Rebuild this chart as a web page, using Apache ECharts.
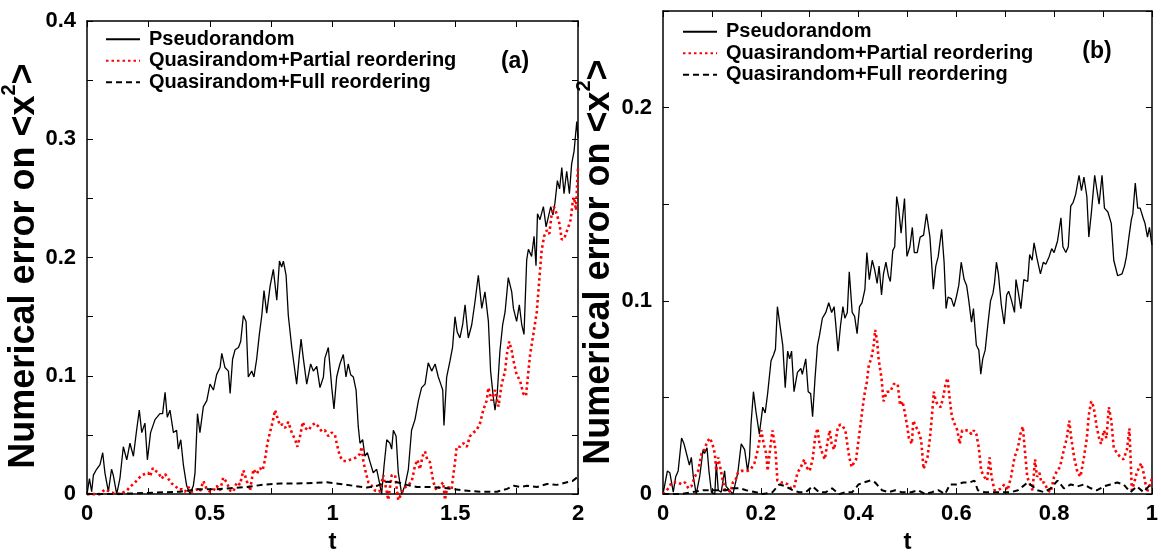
<!DOCTYPE html>
<html>
<head>
<meta charset="utf-8">
<script src="https://cdn.jsdelivr.net/npm/echarts@6/dist/echarts.min.js"></script>
<style>
  html, body { margin: 0; padding: 0; background: #fff; }
  #main { width: 1161px; height: 559px; }
</style>
</head>
<body>
<div id="main"></div>
<script>
// series names
const seriesNames = ['Pseudorandom', 'Quasirandom+Partial reordering', 'Quasirandom+Full reordering']

// tick labels
const xLabelsA = [0, 0.5, 1, 1.5, 2]
const yLabelsA = [0, 0.1, 0.2, 0.3, 0.4]
const xLabelsB = [0, 0.2, 0.4, 0.6, 0.8, 1]
const yLabelsB = [0, 0.1, 0.2]

// panel (a): [t, error]
const pseudoA = [[0,0],[0.01,0.013],[0.019,0.002],[0.026,0.016],[0.039,0.021],[0.053,0.025],[0.064,0.035],[0.073,0.018],[0.087,0.002],[0.1,0.021],[0.107,0.016],[0.121,0],[0.134,0.013],[0.148,0.04],[0.162,0.029],[0.175,0.043],[0.189,0.032],[0.202,0.054],[0.213,0.071],[0.223,0.052],[0.236,0.06],[0.246,0.029],[0.259,0.052],[0.277,0.063],[0.297,0.068],[0.308,0.068],[0.318,0.086],[0.327,0.065],[0.338,0.071],[0.352,0.052],[0.365,0.054],[0.372,0.038],[0.382,0.046],[0.393,0.024],[0.406,0.007],[0.42,0],[0.433,0.007],[0.44,0.018],[0.45,0.068],[0.46,0.052],[0.474,0.074],[0.488,0.079],[0.501,0.093],[0.515,0.088],[0.528,0.101],[0.542,0.107],[0.549,0.119],[0.562,0.107],[0.576,0.104],[0.583,0.085],[0.593,0.114],[0.603,0.122],[0.617,0.124],[0.626,0.129],[0.637,0.151],[0.648,0.146],[0.657,0.099],[0.671,0.104],[0.68,0.099],[0.691,0.114],[0.702,0.135],[0.712,0.151],[0.721,0.172],[0.732,0.153],[0.746,0.176],[0.759,0.19],[0.773,0.164],[0.784,0.197],[0.793,0.192],[0.8,0.197],[0.811,0.185],[0.82,0.151],[0.834,0.124],[0.843,0.11],[0.854,0.093],[0.864,0.115],[0.872,0.131],[0.881,0.115],[0.895,0.093],[0.911,0.11],[0.922,0.104],[0.936,0.108],[0.949,0.09],[0.963,0.099],[0.969,0.115],[0.983,0.124],[0.997,0.09],[1.006,0.072],[1.017,0.099],[1.03,0.11],[1.044,0.118],[1.055,0.099],[1.064,0.11],[1.074,0.101],[1.085,0.099],[1.096,0.088],[1.105,0.057],[1.112,0.043],[1.123,0.046],[1.132,0.032],[1.142,0.035],[1.153,0.027],[1.166,0.018],[1.18,0.021],[1.191,0.01],[1.2,0],[1.21,0.024],[1.221,0.046],[1.234,0.043],[1.241,0.038],[1.248,0.054],[1.259,0.049],[1.268,0.018],[1.282,0],[1.295,0.007],[1.309,0.021],[1.322,0.054],[1.336,0.063],[1.35,0.079],[1.363,0.09],[1.377,0.093],[1.39,0.111],[1.404,0.104],[1.418,0.11],[1.431,0.099],[1.441,0.093],[1.449,0.088],[1.454,0.058],[1.465,0.099],[1.479,0.113],[1.489,0.124],[1.499,0.15],[1.508,0.137],[1.519,0.132],[1.53,0.143],[1.54,0.16],[1.553,0.132],[1.567,0.143],[1.58,0.162],[1.594,0.185],[1.608,0.157],[1.621,0.171],[1.635,0.146],[1.644,0.104],[1.655,0.082],[1.662,0.071],[1.671,0.085],[1.682,0.121],[1.693,0.143],[1.703,0.154],[1.716,0.183],[1.73,0.171],[1.737,0.157],[1.75,0.146],[1.761,0.16],[1.771,0.143],[1.78,0.135],[1.791,0.198],[1.798,0.207],[1.811,0.201],[1.821,0.218],[1.829,0.193],[1.835,0.237],[1.845,0.232],[1.859,0.243],[1.87,0.226],[1.889,0.243],[1.898,0.236],[1.906,0.246],[1.916,0.265],[1.925,0.258],[1.934,0.276],[1.943,0.254],[1.954,0.273],[1.965,0.254],[1.974,0.279],[1.984,0.29],[1.995,0.315],[2,0.301]]
const partialA = [[0,0],[0.053,0],[0.073,0.004],[0.094,0.002],[0.107,0.001],[0.134,0],[0.162,0.003],[0.175,0.006],[0.196,0.01],[0.209,0.013],[0.223,0.016],[0.236,0.017],[0.25,0.018],[0.257,0.015],[0.268,0.022],[0.277,0.02],[0.291,0.018],[0.304,0.013],[0.318,0.017],[0.331,0.013],[0.345,0.009],[0.359,0.007],[0.372,0.004],[0.386,0.004],[0.399,0.002],[0.413,0.006],[0.426,0.002],[0.447,0.004],[0.46,0.002],[0.474,0.011],[0.488,0.004],[0.501,0.002],[0.515,0.003],[0.528,0.007],[0.542,0.003],[0.555,0.014],[0.569,0.01],[0.583,0.003],[0.596,0.002],[0.61,0.01],[0.623,0.008],[0.637,0.02],[0.651,0.011],[0.664,0.003],[0.678,0.021],[0.691,0.017],[0.705,0.022],[0.715,0.02],[0.725,0.029],[0.735,0.043],[0.745,0.052],[0.755,0.06],[0.766,0.071],[0.775,0.065],[0.786,0.058],[0.796,0.059],[0.807,0.056],[0.82,0.061],[0.834,0.052],[0.848,0.046],[0.857,0.04],[0.868,0.049],[0.879,0.061],[0.888,0.056],[0.902,0.054],[0.915,0.058],[0.929,0.06],[0.943,0.057],[0.956,0.053],[0.969,0.054],[0.983,0.049],[0.997,0.052],[1.01,0.05],[1.017,0.043],[1.03,0.032],[1.044,0.028],[1.058,0.028],[1.071,0.029],[1.085,0.03],[1.098,0.031],[1.112,0.034],[1.119,0.04],[1.126,0.027],[1.136,0.018],[1.146,0.01],[1.16,0.007],[1.173,0.003],[1.191,0.002],[1.207,0.016],[1.221,0.002],[1.227,-0.005],[1.241,0.016],[1.255,0.016],[1.262,0.004],[1.268,-0.005],[1.289,0.004],[1.302,0.007],[1.322,0.01],[1.336,0.024],[1.346,0.029],[1.356,0.021],[1.367,0.032],[1.377,0.036],[1.386,0.029],[1.397,0.027],[1.411,0.01],[1.424,0.003],[1.438,0.007],[1.451,0.01],[1.458,-0.005],[1.465,0.003],[1.472,0.006],[1.485,0.004],[1.492,0.016],[1.499,0.027],[1.506,0.04],[1.519,0.04],[1.533,0.043],[1.547,0.04],[1.56,0.049],[1.574,0.052],[1.587,0.054],[1.601,0.06],[1.614,0.071],[1.628,0.079],[1.635,0.09],[1.648,0.079],[1.662,0.088],[1.676,0.074],[1.689,0.093],[1.703,0.104],[1.71,0.118],[1.72,0.129],[1.73,0.121],[1.737,0.113],[1.75,0.101],[1.764,0.096],[1.777,0.085],[1.788,0.083],[1.798,0.104],[1.805,0.118],[1.818,0.135],[1.832,0.154],[1.843,0.183],[1.852,0.206],[1.862,0.218],[1.873,0.223],[1.883,0.22],[1.893,0.237],[1.902,0.243],[1.913,0.237],[1.924,0.229],[1.934,0.215],[1.947,0.218],[1.961,0.226],[1.97,0.232],[1.978,0.246],[1.984,0.251],[1.992,0.24],[1.997,0.265],[2,0.276]]
const fullA = [[0,0],[0.107,0],[0.243,0.001],[0.379,0.002],[0.447,0.004],[0.515,0.004],[0.583,0.005],[0.651,0.006],[0.719,0.008],[0.787,0.009],[0.855,0.009],[0.923,0.0094],[0.977,0.01],[1.031,0.0086],[1.086,0.007],[1.14,0.0055],[1.181,0.007],[1.222,0.0105],[1.263,0.01],[1.303,0.0078],[1.344,0.006],[1.398,0.006],[1.466,0.005],[1.534,0.003],[1.602,0.002],[1.67,0.002],[1.711,0.0044],[1.738,0.007],[1.765,0.006],[1.792,0.007],[1.833,0.006],[1.874,0.0086],[1.914,0.0078],[1.955,0.01],[1.977,0.011],[1.996,0.014],[2,0.016]]

// panel (b): [t, error]
const pseudoB = [[0,0],[0.002,0],[0.009,0.012],[0.014,0.011],[0.021,0.001],[0.026,0.009],[0.031,0.012],[0.038,0.029],[0.043,0.026],[0.048,0.021],[0.054,0.015],[0.058,0.019],[0.062,0.009],[0.068,0],[0.075,0.009],[0.082,0.023],[0.085,0.021],[0.09,0.024],[0.094,0.012],[0.099,0.001],[0.106,0],[0.109,0.016],[0.113,0.002],[0.119,0.001],[0.126,0.012],[0.129,0.004],[0.136,0.002],[0.143,0],[0.153,0.011],[0.16,0.026],[0.167,0.023],[0.173,0.012],[0.177,0.019],[0.18,0.036],[0.185,0.053],[0.19,0.043],[0.197,0.031],[0.204,0.045],[0.209,0.042],[0.214,0.052],[0.221,0.069],[0.226,0.072],[0.23,0.075],[0.234,0.097],[0.238,0.097],[0.245,0.077],[0.25,0.055],[0.255,0.074],[0.259,0.07],[0.263,0.074],[0.268,0.053],[0.275,0.063],[0.282,0.065],[0.285,0.062],[0.292,0.07],[0.297,0.053],[0.302,0.052],[0.306,0.04],[0.311,0.06],[0.316,0.077],[0.32,0.082],[0.326,0.091],[0.333,0.094],[0.339,0.099],[0.345,0.094],[0.35,0.097],[0.353,0.089],[0.358,0.074],[0.363,0.087],[0.368,0.097],[0.372,0.091],[0.377,0.094],[0.381,0.115],[0.387,0.094],[0.392,0.092],[0.397,0.083],[0.402,0.097],[0.407,0.099],[0.413,0.106],[0.417,0.125],[0.422,0.111],[0.428,0.121],[0.433,0.116],[0.438,0.109],[0.442,0.118],[0.447,0.103],[0.451,0.114],[0.456,0.12],[0.461,0.113],[0.465,0.11],[0.47,0.126],[0.474,0.128],[0.478,0.154],[0.482,0.148],[0.487,0.135],[0.494,0.153],[0.499,0.123],[0.505,0.128],[0.51,0.138],[0.514,0.125],[0.52,0.125],[0.526,0.133],[0.533,0.134],[0.539,0.145],[0.546,0.133],[0.553,0.106],[0.558,0.118],[0.563,0.123],[0.57,0.137],[0.575,0.12],[0.579,0.096],[0.583,0.102],[0.59,0.101],[0.595,0.097],[0.6,0.102],[0.605,0.108],[0.61,0.12],[0.616,0.111],[0.621,0.108],[0.625,0.101],[0.631,0.089],[0.635,0.096],[0.641,0.077],[0.646,0.0745],[0.65,0.062],[0.654,0.07],[0.659,0.0745],[0.665,0.089],[0.67,0.1],[0.675,0.104],[0.678,0.109],[0.682,0.12],[0.686,0.114],[0.692,0.098],[0.695,0.097],[0.698,0.088],[0.703,0.103],[0.707,0.105],[0.712,0.101],[0.716,0.102],[0.719,0.094],[0.722,0.111],[0.727,0.104],[0.732,0.096],[0.738,0.111],[0.742,0.111],[0.746,0.11],[0.75,0.124],[0.755,0.121],[0.759,0.13],[0.765,0.122],[0.772,0.114],[0.778,0.12],[0.783,0.119],[0.79,0.123],[0.795,0.127],[0.8,0.125],[0.807,0.131],[0.814,0.143],[0.818,0.128],[0.824,0.125],[0.829,0.128],[0.834,0.149],[0.839,0.151],[0.844,0.155],[0.851,0.165],[0.856,0.157],[0.861,0.164],[0.867,0.154],[0.871,0.133],[0.876,0.145],[0.883,0.165],[0.887,0.165],[0.892,0.15],[0.898,0.165],[0.903,0.148],[0.91,0.146],[0.917,0.14],[0.922,0.121],[0.926,0.12],[0.93,0.113],[0.934,0.113],[0.939,0.114],[0.944,0.118],[0.948,0.123],[0.953,0.133],[0.958,0.142],[0.961,0.145],[0.966,0.161],[0.971,0.148],[0.976,0.148],[0.982,0.143],[0.986,0.14],[0.991,0.133],[0.995,0.138],[1,0.129]]
const partialB = [[0,0],[0.002,0],[0.011,0.003],[0.018,0.006],[0.024,0.006],[0.031,0.006],[0.038,0.005],[0.045,0.006],[0.052,0.003],[0.058,0.004],[0.065,0.009],[0.072,0.012],[0.079,0.021],[0.085,0.023],[0.09,0.027],[0.096,0.029],[0.101,0.026],[0.106,0.021],[0.109,0.012],[0.113,0.019],[0.117,0.014],[0.123,0.006],[0.127,0.002],[0.133,0.002],[0.138,0.001],[0.143,0.006],[0.148,0.007],[0.153,0.011],[0.16,0.012],[0.167,0.012],[0.173,0.012],[0.18,0.013],[0.187,0.016],[0.194,0.023],[0.201,0.033],[0.206,0.026],[0.211,0.021],[0.214,0.012],[0.219,0.023],[0.224,0.033],[0.23,0.023],[0.234,0.007],[0.241,0.006],[0.248,0.006],[0.255,0.005],[0.262,0.003],[0.268,0.003],[0.275,0.011],[0.282,0.014],[0.289,0.018],[0.293,0.014],[0.3,0.012],[0.306,0.018],[0.311,0.029],[0.316,0.034],[0.32,0.026],[0.326,0.021],[0.331,0.018],[0.336,0.026],[0.341,0.033],[0.345,0.026],[0.35,0.023],[0.354,0.029],[0.358,0.035],[0.363,0.036],[0.368,0.035],[0.373,0.033],[0.377,0.026],[0.381,0.019],[0.386,0.014],[0.39,0.016],[0.395,0.018],[0.399,0.026],[0.404,0.036],[0.409,0.046],[0.413,0.053],[0.417,0.058],[0.421,0.067],[0.426,0.07],[0.431,0.077],[0.434,0.085],[0.438,0.079],[0.441,0.07],[0.447,0.06],[0.451,0.048],[0.458,0.053],[0.465,0.053],[0.472,0.057],[0.48,0.057],[0.485,0.046],[0.49,0.048],[0.494,0.043],[0.499,0.036],[0.503,0.029],[0.509,0.026],[0.512,0.038],[0.517,0.035],[0.522,0.033],[0.528,0.028],[0.533,0.013],[0.537,0.012],[0.541,0.019],[0.546,0.029],[0.55,0.04],[0.554,0.053],[0.558,0.048],[0.563,0.046],[0.568,0.045],[0.573,0.05],[0.578,0.057],[0.582,0.06],[0.587,0.048],[0.591,0.04],[0.597,0.036],[0.602,0.033],[0.607,0.026],[0.612,0.033],[0.617,0.033],[0.624,0.033],[0.631,0.031],[0.636,0.033],[0.641,0.031],[0.646,0.024],[0.651,0.012],[0.657,0.009],[0.663,0.007],[0.668,0.019],[0.672,0.009],[0.678,0.002],[0.685,0.002],[0.692,0.003],[0.698,0.005],[0.705,0.002],[0.712,0.009],[0.719,0.019],[0.726,0.024],[0.731,0.031],[0.736,0.035],[0.739,0.026],[0.745,0.009],[0.749,0.006],[0.756,0.002],[0.761,0.018],[0.765,0.009],[0.77,0.011],[0.774,0.006],[0.78,0.006],[0.787,0.002],[0.793,0.001],[0.8,0.009],[0.806,0.012],[0.812,0.014],[0.82,0.023],[0.826,0.029],[0.831,0.038],[0.835,0.029],[0.841,0.019],[0.848,0.011],[0.854,0.009],[0.861,0.019],[0.867,0.029],[0.871,0.041],[0.876,0.048],[0.881,0.045],[0.887,0.035],[0.892,0.029],[0.896,0.026],[0.902,0.033],[0.907,0.029],[0.912,0.045],[0.917,0.038],[0.922,0.024],[0.929,0.021],[0.936,0.019],[0.942,0.018],[0.949,0.023],[0.954,0.034],[0.959,0.002],[0.964,0.006],[0.969,0.011],[0.978,0.016],[0.983,0.011],[0.99,0.001],[0.995,0.004],[1,0.008]]
const fullB = [[0,0],[0.035,0],[0.06,0.001],[0.082,0.002],[0.096,0.002],[0.109,0.002],[0.129,0.002],[0.143,0.003],[0.157,0.003],[0.17,0.002],[0.19,0.001],[0.204,0],[0.224,0.001],[0.238,0.005],[0.251,0.004],[0.265,0.002],[0.278,0.001],[0.292,0.001],[0.306,0.004],[0.319,0.001],[0.333,0.001],[0.346,0.003],[0.36,0],[0.373,0.001],[0.387,0.001],[0.4,0.005],[0.411,0.006],[0.424,0.007],[0.434,0.006],[0.448,0.002],[0.461,0.001],[0.475,0.002],[0.488,0.001],[0.495,0.001],[0.508,0.001],[0.522,0.002],[0.536,0],[0.55,0.001],[0.563,0.002],[0.577,0],[0.587,0.005],[0.6,0.005],[0.614,0.006],[0.627,0.006],[0.637,0.007],[0.644,0.002],[0.658,0.001],[0.671,0.001],[0.685,0.001],[0.698,0.001],[0.712,0.001],[0.726,0.002],[0.736,0.004],[0.746,0.006],[0.756,0.004],[0.766,0.002],[0.78,0.001],[0.793,0.003],[0.807,0.007],[0.82,0.003],[0.834,0.005],[0.848,0.004],[0.861,0.005],[0.875,0.003],[0.888,0.002],[0.902,0.004],[0.915,0.005],[0.929,0.006],[0.942,0.005],[0.956,0.001],[0.969,0.004],[0.983,0.001],[0.997,0.005],[1,0.006]]

const FONT = '"Liberation Sans", Arial, Helvetica, sans-serif'

const chart = echarts.init(document.getElementById('main'))

// only write a label where the tick is one of the listed values
function labelOn (list) {
  return function (v) {
    return list.some(l => Math.abs(l - v) < 1e-9) ? String(+v.toFixed(2)) : ''
  }
}

function xAxis (grid, max, step, labels, top) {
  return {
    type: 'value', gridIndex: grid, min: 0, max: max, interval: step,
    position: top ? 'top' : 'bottom',
    name: top ? '' : 't', nameLocation: 'middle', nameGap: 32,
    nameTextStyle: { fontFamily: FONT, fontWeight: 'bold', fontSize: 24, color: '#000' },
    axisLine: { show: true, onZero: false, lineStyle: { color: '#000', width: 1.5 } },
    axisTick: { show: true, inside: true, length: 6, lineStyle: { color: '#000', width: 1 } },
    axisLabel: top ? { show: false } : {
      show: true, margin: 9, color: '#000', fontFamily: FONT, fontWeight: 'bold', fontSize: 22,
      formatter: labelOn(labels)
    },
    splitLine: { show: false }
  }
}

function yAxis (grid, max, step, labels, right) {
  return {
    type: 'value', gridIndex: grid, min: 0, max: max, interval: step,
    position: right ? 'right' : 'left',
    axisLine: { show: true, onZero: false, lineStyle: { color: '#000', width: 1.5 } },
    axisTick: { show: true, inside: true, length: 6, lineStyle: { color: '#000', width: 1 } },
    axisLabel: right ? { show: false } : {
      show: true, margin: 11, color: '#000', fontFamily: FONT, fontWeight: 'bold', fontSize: 22,
      formatter: labelOn(labels)
    },
    splitLine: { show: false }
  }
}

function lines (axis, data) {
  const styles = [
    { color: '#000', width: 1.3, type: 'solid' },
    { color: '#ff0000', width: 2.6, type: [2.5, 3], cap: 'butt' },
    { color: '#000', width: 2, type: [6, 4], cap: 'butt' }
  ]
  return data.map((d, i) => ({
    name: seriesNames[i],
    type: 'line',
    xAxisIndex: axis, yAxisIndex: axis,
    data: d,
    symbol: 'none', showSymbol: false,
    clip: i !== 1,
    lineStyle: styles[i],
    itemStyle: { color: styles[i].color },
    z: 2 + i
  }))
}

function legendAt (left, top) {
  return {
    orient: 'vertical', left: left, top: top, padding: 0,
    itemWidth: 34, itemHeight: 14, itemGap: 0,
    selectedMode: false,
    data: seriesNames,
    // hide the marker dot, keep the line sample
    itemStyle: { opacity: 0, borderWidth: 0 },
    textStyle: { fontFamily: FONT, fontWeight: 'bold', fontSize: 20, color: '#000', lineHeight: 21.5, padding: [0, 0, 0, 4] }
  }
}

function yTitle (x, y) {
  return {
    type: 'text', x: x, y: y, rotation: Math.PI / 2, silent: true,
    style: {
      text: '{a|Numerical error on <x}{b|2}{a|>}',
      fill: '#000',
      textAlign: 'center', textVerticalAlign: 'middle', align: 'center', verticalAlign: 'middle',
      rich: {
        a: { fontFamily: FONT, fontWeight: 'bold', fontSize: 36, padding: [7, 0, 0, 0], verticalAlign: 'bottom', fill: '#000' },
        b: { fontFamily: FONT, fontWeight: 'bold', fontSize: 20, verticalAlign: 'top', fill: '#000' }
      }
    }
  }
}

function panelTag (text, x, y) {
  return {
    type: 'text', x: x, y: y, silent: true,
    style: {
      text: text, fill: '#000', font: 'bold 23px ' + FONT,
      textAlign: 'center', textVerticalAlign: 'middle', align: 'center', verticalAlign: 'middle'
    }
  }
}

const option = {
  animation: false,
  backgroundColor: '#fff',
  grid: [
    { left: 87, top: 21, width: 491, height: 481 },
    { left: 663, top: 11, width: 492, height: 490 }
  ],
  xAxis: [
    xAxis(0, 2, 0.25, xLabelsA, false),
    xAxis(0, 2, 0.25, xLabelsA, true),
    xAxis(1, 1, 0.1, xLabelsB, false),
    xAxis(1, 1, 0.1, xLabelsB, true)
  ],
  yAxis: [
    yAxis(0, 0.4, 0.05, yLabelsA, false),
    yAxis(0, 0.4, 0.05, yLabelsA, true),
    yAxis(1, 0.25, 0.05, yLabelsB, false),
    yAxis(1, 0.25, 0.05, yLabelsB, true)
  ],
  legend: [legendAt(105, 28.5), legendAt(682, 21)],
  series: [].concat(
    lines(0, [pseudoA, partialA, fullA]),
    lines(2, [pseudoB, partialB, fullB])
  ),
  graphic: [
    yTitle(21, 266),
    yTitle(596, 262),
    panelTag('(a)', 515, 62),
    panelTag('(b)', 1097, 52)
  ]
}

chart.setOption(option)
</script>
</body>
</html>
